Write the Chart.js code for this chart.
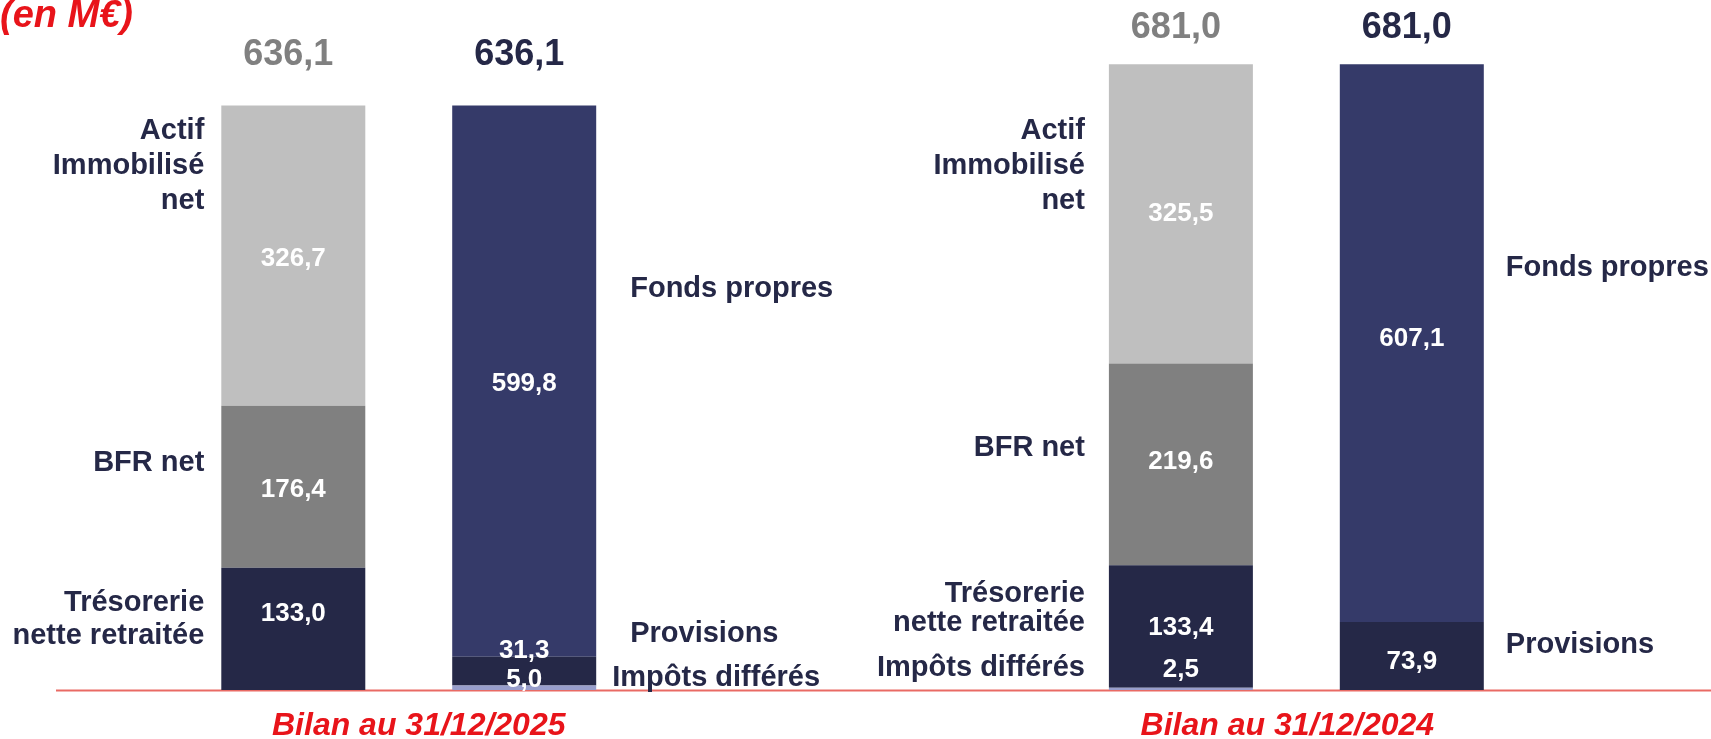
<!DOCTYPE html>
<html>
<head>
<meta charset="utf-8">
<script src="https://cdn.jsdelivr.net/npm/chart.js@4/dist/chart.umd.min.js"></script>
<style>
  html, body { margin: 0; padding: 0; background: #fff; }
  #wrap { width: 1711px; height: 739px; position: relative; }
</style>
</head>
<body>
<div id="wrap"><canvas id="bilan_chart"></canvas></div>
<script>
// données (en M€)
const categories = ['Bilan au 31/12/2025', 'Bilan au 31/12/2024'];
const impotsActif = [null, 2.5];
const tresorerie = [133.0, 133.4];
const bfrNet = [176.4, 219.6];
const actifImmo = [326.7, 325.5];
const impotsPassif = [5.0, null];
const provisions = [31.3, 73.9];
const fondsPropres = [599.8, 607.1];

const FONT = "'Liberation Sans', Arial, Helvetica, sans-serif";
const NAVY = '#252847';
const RED = '#e8141a';

function fmt(v) {
    return v.toFixed(1).replace('.', ',');
}

function barOf(chart, stack, index) {
    const ds = chart.data.datasets;
    for (let i = 0; i < ds.length; i++) {
        if (ds[i].stack === stack && ds[i].data[index] != null) {
            return chart.getDatasetMeta(i).data[index];
        }
    }
}

const overlay = {
    id: 'overlay',
    beforeDatasetsDraw(chart) {
        const ctx = chart.ctx;
        const y0 = chart.scales.y.getPixelForValue(0);
        ctx.save();
        ctx.strokeStyle = '#e96a64';
        ctx.lineWidth = 2;
        ctx.beginPath();
        ctx.moveTo(56, y0 + 0.5);
        ctx.lineTo(chart.width, y0 + 0.5);
        ctx.stroke();
        ctx.restore();
    },
    afterDatasetsDraw(chart, args, opts) {
        const ctx = chart.ctx;
        const yScale = chart.scales.y;
        ctx.save();

        // valeurs dans les barres
        ctx.font = 'bold 26px ' + FONT;
        ctx.fillStyle = '#fff';
        ctx.textAlign = 'center';
        ctx.textBaseline = 'middle';
        chart.data.datasets.forEach((ds, di) => {
            chart.getDatasetMeta(di).data.forEach((bar, i) => {
                const v = ds.data[i];
                if (v == null) return;
                const shift = (ds.labelShift || [0, 0])[i];
                ctx.fillText(fmt(v), bar.x, (bar.y + bar.base) / 2 + shift);
            });
        });

        // totaux au-dessus
        ctx.font = 'bold 36px ' + FONT;
        ['actif', 'passif'].forEach(stack => {
            categories.forEach((c, i) => {
                const bar = barOf(chart, stack, i);
                let total = 0;
                chart.data.datasets.forEach(ds => {
                    if (ds.stack === stack && ds.data[i] != null) total += ds.data[i];
                });
                ctx.fillStyle = stack === 'actif' ? '#808080' : NAVY;
                ctx.fillText(fmt(total), bar.x - 5, yScale.getPixelForValue(total) - opts.totalGap[i]);
            });
        });

        // libellés des postes
        ctx.font = 'bold 29px ' + FONT;
        ctx.fillStyle = NAVY;
        opts.notes.forEach(n => {
            const bar = barOf(chart, n.stack, n.index);
            const left = n.stack === 'actif';
            ctx.textAlign = left ? 'right' : 'left';
            const x = left ? bar.x - bar.width / 2 - n.dx : bar.x + bar.width / 2 + n.dx;
            const yc = yScale.getPixelForValue(n.at);
            const lh = n.lh || 34;
            n.lines.forEach((t, k) => {
                ctx.fillText(t, x, yc + (k - (n.lines.length - 1) / 2) * lh);
            });
        });

        // dates sous l'axe
        ctx.font = 'italic bold 32px ' + FONT;
        ctx.fillStyle = RED;
        ctx.textAlign = 'center';
        categories.forEach((c, i) => {
            ctx.fillText(c, chart.scales.x.getPixelForValue(i) + opts.dateShift[i], 726);
        });

        // unité
        ctx.font = 'italic bold 38px ' + FONT;
        ctx.textAlign = 'left';
        ctx.textBaseline = 'alphabetic';
        ctx.fillText('(en M€)', 0, 27);
        ctx.restore();
    }
};

const ctx = document.getElementById('bilan_chart').getContext('2d');

new Chart(ctx, {
    type: 'bar',
    data: {
        labels: categories,
        datasets: [
            { label: 'Impôts différés', stack: 'actif', data: impotsActif, backgroundColor: '#989ecc', labelShift: [0, -19] },
            { label: 'Trésorerie nette retraitée', stack: 'actif', data: tresorerie, backgroundColor: NAVY, labelShift: [-15, 1] },
            { label: 'BFR net', stack: 'actif', data: bfrNet, backgroundColor: '#808080', labelShift: [3, -2] },
            { label: 'Actif Immobilisé net', stack: 'actif', data: actifImmo, backgroundColor: '#bfbfbf', labelShift: [3, 0] },
            { label: 'Impôts différés', stack: 'passif', data: impotsPassif, backgroundColor: '#989ecc', labelShift: [-8, 0] },
            { label: 'Provisions', stack: 'passif', data: provisions, backgroundColor: NAVY, labelShift: [-20, 6] },
            { label: 'Fonds propres', stack: 'passif', data: fondsPropres, backgroundColor: '#353a69', labelShift: [3, -4] }
        ]
    },
    options: {
        responsive: true,
        maintainAspectRatio: false,
        animation: false,
        layout: {
            padding: { left: 408.75, right: 414.65, top: 0, bottom: 49 }
        },
        datasets: {
            bar: {
                clip: false,
                borderWidth: 0,
                categoryPercentage: 0.5203,
                barPercentage: 0.6236
            }
        },
        plugins: {
            legend: { display: false },
            tooltip: { enabled: false },
            overlay: {
                totalGap: [50, 36],
                dateShift: [10, -9],
                notes: [
                    { stack: 'actif', index: 0, dx: 17, at: 570, lh: 35, lines: ['Actif', 'Immobilisé', 'net'] },
                    { stack: 'actif', index: 0, dx: 17, at: 247, lines: ['BFR net'] },
                    { stack: 'actif', index: 0, dx: 17, at: 77, lh: 33, lines: ['Trésorerie', 'nette retraitée'] },
                    { stack: 'actif', index: 1, dx: 24, at: 570, lh: 35, lines: ['Actif', 'Immobilisé', 'net'] },
                    { stack: 'actif', index: 1, dx: 24, at: 263, lines: ['BFR net'] },
                    { stack: 'actif', index: 1, dx: 24, at: 89, lh: 29, lines: ['Trésorerie', 'nette retraitée'] },
                    { stack: 'actif', index: 1, dx: 24, at: 24, lines: ['Impôts différés'] },
                    { stack: 'passif', index: 0, dx: 34, at: 436, lines: ['Fonds propres'] },
                    { stack: 'passif', index: 0, dx: 34, at: 61, lines: ['Provisions'] },
                    { stack: 'passif', index: 0, dx: 16, at: 13, lines: ['Impôts différés'] },
                    { stack: 'passif', index: 1, dx: 22, at: 459, lines: ['Fonds propres'] },
                    { stack: 'passif', index: 1, dx: 22, at: 49, lines: ['Provisions'] }
                ]
            }
        },
        scales: {
            x: {
                display: false,
                stacked: true,
                offset: false
            },
            y: {
                display: false,
                stacked: true,
                min: 0,
                max: 751
            }
        }
    },
    plugins: [overlay]
});
</script>
</body>
</html>
